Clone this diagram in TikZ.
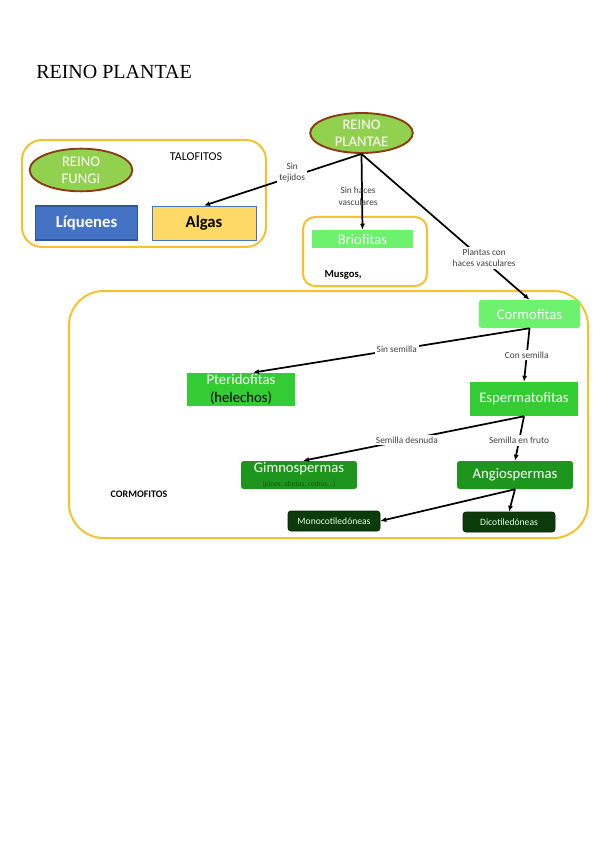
\documentclass[tikz,border=0pt]{standalone}
\usepackage{fontspec}
\setmainfont{Carlito}
\newfontfamily\titlefont{Liberation Serif}
\usetikzlibrary{arrows.meta,shapes.geometric}
\definecolor{GoldLine}{HTML}{F5C22E}
\definecolor{LeafGreen}{HTML}{92D050}
\definecolor{BarkBrown}{HTML}{8A3B12}
\definecolor{LichenBlue}{HTML}{4472C4}
\definecolor{LichenEdge}{HTML}{2F5597}
\definecolor{AlgaYellow}{HTML}{FFD966}
\definecolor{MossGreen}{HTML}{6CF26C}
\definecolor{FernGreen}{HTML}{33CC33}
\definecolor{SeedGreen}{HTML}{1E961E}
\definecolor{SeedText}{HTML}{0E5C0E}
\definecolor{LeafDark}{HTML}{0B3B0B}
\definecolor{InkLabel}{HTML}{404040}
\tikzset{
  grp/.style={draw=GoldLine, line width=1.5pt, rounded corners=#1},
  kingdom/.style={ellipse, draw=BarkBrown, line width=1.4pt, fill=LeafGreen, text=white,
             minimum width=77pt, minimum height=30pt, inner sep=0pt, align=center,
             font=\fontsize{11}{13}\selectfont},
  taxbox/.style={rectangle, fill=FernGreen, text=white, inner sep=0pt, align=center,
             font=\fontsize{11}{14}\selectfont},
  darkbox/.style={taxbox, fill=LeafDark, draw=black!40!LeafDark, rounded corners=2pt,
             minimum width=69pt, minimum height=15pt, text=white!88!green,
             font=\fontsize{7.2}{8}\selectfont},
  arr/.style={line width=1.3pt, -{Latex[length=4.5pt,width=3.8pt]}},
  edgelbl/.style={font=\fontsize{7}{8.5}\selectfont, text=InkLabel, align=center, inner sep=1.5pt},
  knock/.style={edgelbl, fill=white},
  plain/.style={inner sep=0pt, font=\fontsize{8}{9}\selectfont\bfseries},
}

\begin{document}
\begin{tikzpicture}[x=0.75pt, y=-0.75pt]
\useasboundingbox (0,0) rectangle (599,848);
\node[anchor=west, inner sep=0pt, font=\titlefont\fontsize{15}{16}\selectfont] (title) at (36,72) {REINO PLANTAE};

% talofitos
\draw[grp=15pt] (22,140) rectangle (266,247);
\node[kingdom, minimum height=32pt] (fungi) at (81,170) {REINO\\FUNGI};
\node[inner sep=0pt, font=\fontsize{9}{10}\selectfont] (talo) at (196,157) {TALOFITOS};
\node[taxbox, fill=LichenBlue, draw=LichenEdge, line width=0.8pt, minimum width=77pt,
      minimum height=25.5pt, font=\fontsize{12.5}{14}\selectfont\bfseries] (liquenes) at (86.5,223) {Líquenes};
\node[taxbox, fill=AlgaYellow, draw=LichenBlue, line width=0.6pt, text=black, minimum width=78pt,
      minimum height=25.5pt, font=\fontsize{12.5}{14}\selectfont\bfseries] (algas) at (204,223) {Algas};

% briofitas
\node[kingdom] (plantae) at (361.5,133) {REINO\\PLANTAE};
\draw[grp=9pt] (303,217) rectangle (427,286);
\node[taxbox, fill=MossGreen, minimum width=76pt, minimum height=13.5pt] (brio) at (362.5,239) {Briofitas};
\node[plain] (musgos) at (343,275) {Musgos,};

% cormofitas
\draw[grp=26pt] (69,291) rectangle (588,538);
\node[taxbox, fill=MossGreen, rounded corners=2pt, minimum width=76pt, minimum height=21pt] (cormo) at (529.5,314) {Cormofitas};
\node[taxbox, minimum width=81pt, minimum height=25pt] (pterido) at (241,389.5) {Pteridofitas\\\textcolor{black}{(helechos)}};
\node[taxbox, minimum width=81pt, minimum height=25.5pt] (esperm) at (524,399) {Espermatofitas};
\node[taxbox, fill=SeedGreen, rounded corners=2pt, minimum width=87pt, minimum height=21pt,
      font=\fontsize{11}{11}\selectfont] (gimno) at (299,475) {Gimnospermas\\[-1pt]{\fontsize{5.5}{6}\selectfont\color{SeedText}(pinos, abetos, cedros...)}};
\node[taxbox, fill=SeedGreen, rounded corners=2pt, minimum width=87pt, minimum height=21pt] (angio) at (515,475) {Angiospermas};
\node[darkbox] (mono) at (334,521) {Monocotiledóneas};
\node[darkbox] (dico) at (509,522) {Dicotiledóneas};
\node[plain, font=\fontsize{7.5}{9}\selectfont\bfseries] (cormotxt) at (139,494) {CORMOFITOS};

% conectores
\draw[arr] (plantae.south) -- node[knock, pos=0.44, yshift=3pt] {Sin\\tejidos} (algas.north);
\draw[arr] (plantae.south) -- node[edgelbl, pos=0.56, xshift=-3pt] {Sin haces\\vasculares} (brio.north);
\draw[arr] (plantae.south) -- node[knock, pos=0.73, yshift=2pt] {Plantas con\\haces vasculares} (cormo.north);
\draw[arr] (cormo.south) -- node[knock, pos=0.48] {Sin semilla} ([xshift=9pt]pterido.north);
\draw[arr] (cormo.south) -- node[knock, pos=0.5] {Con semilla} (esperm.north);
\draw[arr] (esperm.south) -- node[knock, pos=0.53] {Semilla desnuda} ([xshift=3pt]gimno.north);
\draw[arr] (esperm.south) -- node[knock, pos=0.55] {Semilla en fruto} (angio.north);
\draw[arr] (angio.south) -- (mono.east);
\draw[arr] (angio.south) -- (dico.north);
\end{tikzpicture}
\end{document}
